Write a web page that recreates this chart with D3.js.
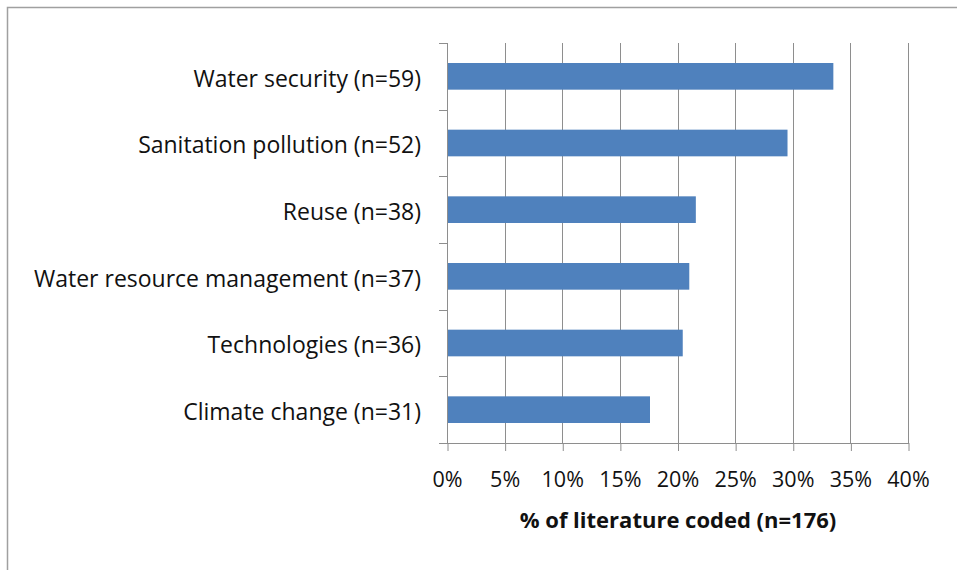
<!DOCTYPE html>
<html><head><meta charset="utf-8">
<script src="https://cdn.jsdelivr.net/npm/d3@7"></script>
<style>
html,body{margin:0;padding:0;background:#fff;}
svg{display:block;}
</style></head>
<body>
<svg id="chart" width="957" height="570"></svg>
<script>
const categories = ["Water security (n=59)","Sanitation pollution (n=52)","Reuse (n=38)","Water resource management (n=37)","Technologies (n=36)","Climate change (n=31)"];
const counts = [59,52,38,37,36,31];
const totalCoded = 176;
const values = counts.map(c => c / totalCoded);
const xTicks = [0,0.05,0.1,0.15,0.2,0.25,0.3,0.35,0.4];
const xTitle = "% of literature coded (n=176)";

(function(){
const svg = d3.select("#chart");
const font = "'Open Sans', sans-serif";
const gridColor = "#8e8e8e";

// outer frame
svg.append("rect").attr("x",7.5).attr("y",7.5).attr("width",1200).attr("height",1200)
  .attr("fill","none").attr("stroke","#a0a0a0").attr("stroke-width",1.5);

const pL = 447, pR = 908, pT = 43, pB = 443;
const x = d3.scaleLinear().domain([0,0.4]).range([pL,pR]);
const y = d3.scaleBand().domain(categories).range([pT,pB]).paddingInner(0.6).paddingOuter(0.3);

// gridlines
svg.append("g").selectAll("line").data(xTicks.slice(1)).join("line")
  .attr("x1",d=>Math.round(x(d))+0.5).attr("x2",d=>Math.round(x(d))+0.5)
  .attr("y1",pT).attr("y2",pB)
  .attr("stroke",gridColor).attr("stroke-width",1);

// bars
svg.append("g").selectAll("rect").data(categories).join("rect")
  .attr("x",x(0)).attr("y",d=>y(d))
  .attr("width",(d,i)=>x(values[i])-x(0)).attr("height",y.bandwidth())
  .attr("fill","#4f81bd");

// bottom axis
const xAxis = d3.axisBottom(x).tickValues(xTicks).tickFormat(d3.format(".0%")).tickSizeInner(8).tickSizeOuter(0).tickPadding(21);
const gx = svg.append("g").attr("transform",`translate(0,${pB})`).call(xAxis);
gx.select(".domain").remove();
gx.selectAll(".tick line").attr("stroke",gridColor).attr("transform","translate(0.5,0)");
gx.selectAll(".tick text").attr("font-family",font).attr("font-size",21.5).attr("fill","#111");
svg.append("line").attr("x1",pL-8).attr("x2",pR+1).attr("y1",pB+0.5).attr("y2",pB+0.5).attr("stroke",gridColor);

// left axis
const yAxis = d3.axisLeft(y).tickSize(0).tickPadding(26);
const gy = svg.append("g").attr("transform",`translate(${pL},0)`).call(yAxis);
gy.select(".domain").remove();
gy.selectAll(".tick text").attr("font-family",font).attr("font-size",23).attr("fill","#111").attr("dy","0.45em");
svg.append("line").attr("x1",pL+0.5).attr("x2",pL+0.5).attr("y1",pT).attr("y2",pB).attr("stroke",gridColor);
const bounds = d3.range(categories.length+1).map(i => pT + i*y.step());
svg.append("g").selectAll("line").data(bounds).join("line")
  .attr("x1",pL-8).attr("x2",pL).attr("y1",d=>Math.round(d)+0.5).attr("y2",d=>Math.round(d)+0.5)
  .attr("stroke",gridColor);

// axis title
svg.append("text").attr("x",(pL+pR)/2+0.5).attr("y",528)
  .attr("text-anchor","middle").attr("font-family",font).attr("font-weight","bold")
  .attr("font-size",22).attr("fill","#111").text(xTitle);
})();
</script>
</body></html>
